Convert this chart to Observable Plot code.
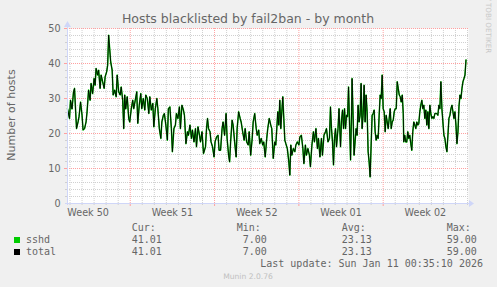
<!DOCTYPE html>
<html><head><meta charset="utf-8">
<script src="https://cdn.jsdelivr.net/npm/d3@7"></script>
<script src="https://cdn.jsdelivr.net/npm/@observablehq/plot@0.6"></script>
<style>
html,body{margin:0;padding:0;background:#f0f0f0;}
#chart svg{display:block;}
</style></head><body><div id="chart"></div>
<script>
// ---- text ----
const title = "Hosts blacklisted by fail2ban - by month";
const yLabel = "Number of hosts";
const weekLabels = ["Week 50", "Week 51", "Week 52", "Week 01", "Week 02"];
// hours since Mon 2025-12-08 00:00 (start of week 50)
const weekMid = [84, 252, 420, 588, 756];
const weekStart = [168, 336, 504, 672];
const yTicks = [0, 10, 20, 30, 40, 50];
const legendSeries = ["sshd", "total"];
const legendColors = ["#00cc00", "#000000"];
const legendHeaders = ["Cur:", "Min:", "Avg:", "Max:"];
const legendValues = [["41.01", " 7.00", "23.13", "59.00"], ["41.01", " 7.00", "23.13", "59.00"]];
const lastUpdate = "Last update: Sun Jan 11 00:35:10 2026";
const watermark = "Munin 2.0.76";
const sideMark = "RRDTOOL / TOBI OETIKER";

// ---- data: hours since 2025-12-08 00:00, hosts ----
const hours = [
43,47,49,52,55,57,59,61,64,66,69,72,74,77,80,82,85,88,90,93,96,98,100,103,105,108,110,113,116,118,121,123,125,127,129,132,134,137,140,142,145,148,150,153,155,157,159,162,165,167,170,173,
175,178,181,183,186,189,191,194,197,199,202,205,207,210,213,215,218,221,223,226,229,231,234,236,239,242,244,247,250,252,255,258,260,263,266,268,271,274,276,279,282,284,287,290,292,295,298,300,303,306,308,311,314,
318,320,322,324,327,329,332,335,337,340,343,345,348,351,353,356,359,361,364,366,368,371,373,376,379,381,384,387,389,392,395,397,400,403,405,408,411,413,416,419,421,424,426,429,432,434,437,440,442,445,448,
450,453,456,458,460,462,464,466,468,470,472,474,476,478,481,484,486,488,490,493,496,498,501,504,506,509,512,514,517,519,522,525,527,530,533,535,538,541,543,546,549,551,554,557,559,562,565,567,569,571,573,575,577,579,582,584,
587,589,591,593,595,597,599,601,603,605,607,609,610,612,614,616,618,620,622,624,626,628,630,632,634,636,638,640,642,644,646,648,650,652,654,656,658,660,662,664,666,668,670,672,674,676,678,680,682,684,686,688,690,692,694,696,698,700,702,704,706,708,710,712,713,715,717,
719,721,723,725,727,729,731,733,735,737,739,741,743,745,747,749,751,753,755,757,759,761,763,765,767,769,771,773,775,777,779,781,783,785,787,789,791,793,795,797,799,801,803,805,807,809,811,813,815,817,819,821,823,825,827,829,831,833,835,837
];
const hosts = [
27.1,24.3,29.5,27,31.9,32.9,27,21.4,23.3,24.8,29,25.2,21,21.4,23.3,26.2,32.4,29.5,34.3,31.4,35.7,33.8,38.6,36.7,38.1,32.9,36.7,34.8,32.9,36.2,37.6,39.5,48.1,44.3,40.5,38.1,31,32.4,30.5,36.7,31.9,31,33.3,29.5,21.4,31,27,30.5,24.3,23.3,27,29.5,
27.1,29.5,31.9,22.9,28.1,31.4,27.1,30,26.7,31,30,25.7,30.5,26.7,28.6,21.9,27.1,30,27.1,21.4,18.6,23.3,25.2,25.7,22.4,18.1,27.1,27.6,21.4,14.8,21.4,22.4,25.7,24.3,27.6,21.4,28.1,26.7,25.2,17.1,20.5,19.5,22.4,18.6,21,17.6,21.4,16.2,21.9,19.5,17.6,20.5,14.3,
16.2,21.4,24.3,21.4,20.5,17.6,16.2,13.3,17.6,19,19.5,15.2,15.2,21.4,23.3,19.5,25.7,18.6,13.8,11.9,17.6,23.8,22.4,17.6,13.3,21.4,26.2,24.3,23.3,20.5,18.1,21.4,17.6,16.7,20.5,13.8,18.6,23.3,25.7,21.4,19.5,21,17.1,18.6,16.7,17.6,13.3,18.6,21.4,24.3,22.4,
21.4,12.9,17.6,16.7,21.4,26.2,22.4,29.5,21.4,26.2,30.5,24.3,18.1,17.1,15.7,11.9,8.1,16.7,13.8,15.7,14.8,16.7,17.6,16.7,19,19.5,15.7,11.4,16.7,13.8,15.7,13.8,10.5,16.7,20.5,17.6,21.4,15.7,18.6,13.3,18.6,13.8,19.5,20.5,21.4,17.6,18.6,27.6,21.4,17.6,11,18.6,21.4,16.2,21.4,27.1,
16.2,23.8,26.7,21.4,27.1,21.4,25.2,24.8,33.3,22.4,12.4,26.2,35.7,25.2,13.8,17.6,21.4,19.5,28.1,23.3,25.2,34.3,21.4,25.2,33.8,23.3,31,26.2,14.8,11.9,7.6,16.7,25.2,25.7,26.7,20.5,18.1,19.5,18.6,25.2,31,30,36.7,27.1,26.2,20.5,25.2,23.3,21.4,24.3,27.1,21.4,23.3,23.8,26.2,27.1,27.1,34.8,32.9,31,30.5,29,31,25.7,17.6,19.5,17.6,
17.6,20.5,18.6,19.5,17.1,15.2,20.5,23.3,22.4,21.4,23.3,22.4,22.9,26.2,28.1,29.5,27.1,28.1,24.3,26.7,22.4,26.2,21.4,28.1,25.7,24.3,24.8,24.3,25.7,25.7,25.7,25.2,28.1,27.1,34.8,27.1,23.3,19.5,18.6,16.2,14.8,19.5,24.3,25.2,27.1,28.1,26.2,24.3,26.2,22.4,17.1,20.5,27.6,31,30,32.9,34.8,35.7,36.7,41.01
];

const data = hours.map((h, i) => ({h, v: hosts[i]}));
const dayLines = d3.range(48, 841, 24).filter(d => !weekStart.includes(d));
const yMinor = d3.range(2, 50, 2).filter(v => v % 10 !== 0);
const yMajor = yTicks.filter(v => v > 0);

const GRID = "#d0d0d0", MGRID = "#ffa0a0", AXIS = "#cfd6f8", FONT = "#666666";

const plot = Plot.plot({
  width: 497, height: 287,
  marginLeft: 67, marginRight: 29, marginTop: 28, marginBottom: 84,
  style: {background: "#f0f0f0", fontFamily: "DejaVu Sans", fontSize: "9.6px", color: FONT, overflow: "visible"},
  x: {domain: [43, 842], label: null},
  y: {domain: [0, 50], label: null},
  marks: [
    Plot.frame({fill: "#ffffff", stroke: "none"}),
    Plot.ruleY(yMinor, {stroke: GRID, strokeDasharray: "1,1"}),
    Plot.ruleX(dayLines, {stroke: GRID, strokeDasharray: "1,1"}),
    Plot.ruleY(yMajor, {stroke: MGRID, strokeDasharray: "1,1"}),
    Plot.ruleX(weekStart, {stroke: MGRID, strokeDasharray: "1,1"}),
    Plot.line(data, {x: "h", y: "v", stroke: "#00cc00", strokeWidth: 1.5}),
    Plot.line(data, {x: "h", y: "v", stroke: "#000000", strokeWidth: 0.9}),
    Plot.axisY(yMinor, {tickSize: 2, tickFormat: () => "", stroke: GRID, label: null}),
    Plot.axisY(yMajor, {tickSize: 3, tickFormat: () => "", stroke: MGRID, label: null}),
    Plot.axisX(dayLines, {tickSize: 2, tickFormat: () => "", stroke: GRID, label: null}),
    Plot.axisX(weekStart, {tickSize: 3, tickFormat: () => "", stroke: MGRID, label: null}),
    Plot.axisY(yTicks, {tickSize: 0, tickPadding: 7, label: null, fill: FONT}),
    Plot.axisX(weekMid, {tickSize: 0, tickPadding: 6, label: null, fill: FONT, tickFormat: d => weekLabels[weekMid.indexOf(d)]})
  ]
});
document.getElementById("chart").appendChild(plot);

// ---- decorations: axes with arrows, title, legend ----
const svg = d3.select(plot);
const xs = plot.scale("x"), ys = plot.scale("y");
const x0 = xs.apply(43), x1 = xs.apply(842), y0 = ys.apply(0), y1 = ys.apply(50);
const g = svg.append("g");
g.append("line").attr("x1", x0 - 2).attr("x2", x1 + 2).attr("y1", y0 + 0.5).attr("y2", y0 + 0.5).attr("stroke", AXIS);
g.append("line").attr("x1", x0 + 0.5).attr("x2", x0 + 0.5).attr("y1", y0 + 2).attr("y2", y1 - 2).attr("stroke", AXIS);
g.append("path").attr("d", `M${x1 + 1},${y0 - 3}L${x1 + 6},${y0 + 0.5}L${x1 + 1},${y0 + 4}Z`).attr("fill", AXIS);
g.append("path").attr("d", `M${x0 - 3},${y1 - 1}L${x0 + 0.5},${y1 - 7}L${x0 + 4},${y1 - 1}Z`).attr("fill", AXIS);

const T = (x, y, s, o = {}) => g.append("text").attr("x", x).attr("y", y).text(s)
  .attr("fill", o.fill || FONT).attr("font-family", o.family || "DejaVu Sans")
  .attr("font-size", o.size || 10).attr("text-anchor", o.anchor || "start")
  .attr("xml:space", "preserve").style("white-space", "pre");

T(248, 22.5, title, {size: 12.5, anchor: "middle"});
g.append("text").attr("transform", "translate(14.5,115) rotate(-90)").attr("text-anchor", "middle")
  .attr("font-family", "DejaVu Sans").attr("font-size", 11).attr("fill", FONT).text(yLabel);

const mono = {family: "DejaVu Sans Mono", size: 10};
const colX = [131.7, 236.7, 341.7, 446.7];
legendHeaders.forEach((h, i) => T(colX[i], 231, h, mono));
legendSeries.forEach((s, r) => {
  const by = 243 + r * 12;
  g.append("rect").attr("x", 14).attr("y", by - 6).attr("width", 6).attr("height", 6).attr("fill", legendColors[r]);
  T(26, by, s, mono);
  legendValues[r].forEach((v, i) => T(colX[i], by, v, mono));
});
T(483, 267, lastUpdate, {...mono, anchor: "end"});
T(248, 279, watermark, {size: 7.6, anchor: "middle", fill: "#c0c0c0"});
g.append("text").attr("x", 488).attr("y", 7).style("writing-mode", "vertical-rl")
  .attr("font-family", "DejaVu Sans").attr("font-size", 7.2).attr("fill", "#c8c8c8").text(sideMark);
</script></body></html>
